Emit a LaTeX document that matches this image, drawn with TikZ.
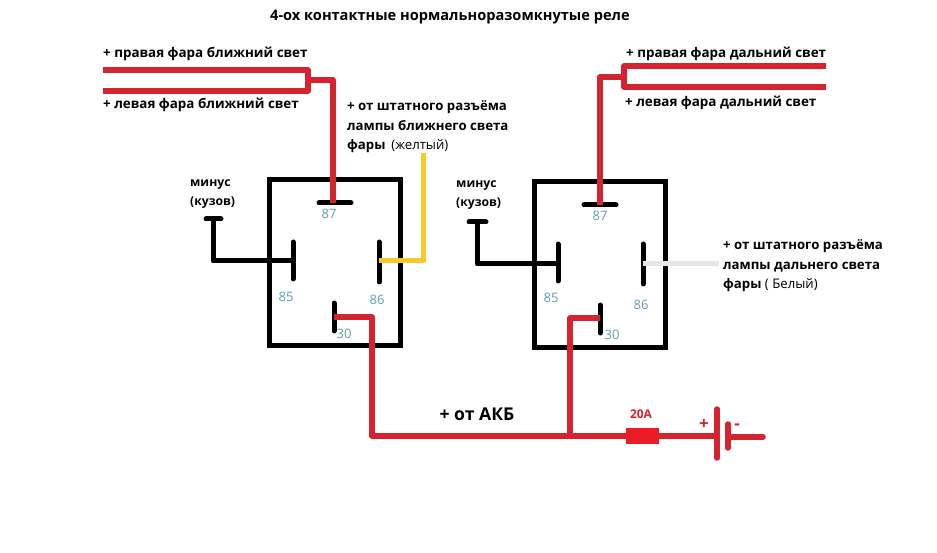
\documentclass[tikz,border=0pt]{standalone}
\usepackage{fontspec}
\setmainfont{Open Sans}
\definecolor{wirered}{HTML}{D5242F}
\definecolor{wireyellow}{HTML}{FBC926}
\definecolor{wirewhite}{HTML}{E6E6E6}
\definecolor{pinblue}{HTML}{5B9EB0}
\definecolor{fusered}{HTML}{EC1C24}
\tikzset{
  relaybox/.style={draw=black,line width=5pt,minimum width=131pt,minimum height=166pt,inner sep=0pt},
  contact/.style={draw=black,line width=5pt,line cap=round},
  blackwire/.style={draw=black,line width=5pt,line join=round},
  redwire/.style={draw=wirered,line width=5.5pt,line join=round},
  caption/.style={anchor=west,inner sep=0pt,font=\fontsize{13.4}{19.5}\selectfont\bfseries,align=left},
  lampcaption/.style={caption,font=\fontsize{13.2}{19.5}\selectfont\bfseries},
  groundcaption/.style={caption,font=\fontsize{12.2}{19}\selectfont\bfseries},
  pin/.style={inner sep=0pt,text=pinblue,font=\fontsize{13}{15}\selectfont}
}
\begin{document}
\begin{tikzpicture}[x=1pt,y=-1pt]
    \useasboundingbox (0,0) rectangle (937,553);

    \node[caption,font=\fontsize{14.6}{19.5}\selectfont\bfseries] (title) at (270,17) {4-ох контактные нормальноразомкнутые реле};

    % left relay
    \node[relaybox] (relayA) at (335,262.5) {};
    \coordinate (a87w) at (319,203); \coordinate (a87e) at (351,203);
    \coordinate (a87) at (333,203);
    \coordinate (a85n) at (293,242); \coordinate (a85s) at (293,279);
    \coordinate (a85) at (293,261);
    \coordinate (a86n) at (379,242); \coordinate (a86s) at (379,282);
    \coordinate (a86) at (379,261);
    \coordinate (a30n) at (334,303); \coordinate (a30s) at (334,331);
    \coordinate (a30) at (334,317);
    \draw[contact] (a87w) -- (a87e);
    \draw[contact] (a85n) -- (a85s);
    \draw[contact] (a86n) -- (a86s);
    \draw[contact] (a30n) -- (a30s);
    \node[pin] (a87t) at (329,214) {87};
    \node[pin] (a85t) at (286,297) {85};
    \node[pin] (a86t) at (377,300) {86};
    \node[pin] (a30t) at (344,334) {30};

    % right relay
    \node[relaybox] (relayB) at (600,264.5) {};
    \coordinate (b87w) at (584,205); \coordinate (b87e) at (616,205);
    \coordinate (b87) at (600,205);
    \coordinate (b85n) at (558,244); \coordinate (b85s) at (558,281);
    \coordinate (b85) at (558,264);
    \coordinate (b86n) at (643,244); \coordinate (b86s) at (643,284);
    \coordinate (b86) at (643,264);
    \coordinate (b30n) at (600,305); \coordinate (b30s) at (600,333);
    \coordinate (b30) at (600,318);
    \draw[contact] (b87w) -- (b87e);
    \draw[contact] (b85n) -- (b85s);
    \draw[contact] (b86n) -- (b86s);
    \draw[contact] (b30n) -- (b30s);
    \node[pin] (b87t) at (600,216) {87};
    \node[pin] (b85t) at (551,298) {85};
    \node[pin] (b86t) at (641,305) {86};
    \node[pin] (b30t) at (612,335) {30};

    % minus
    \node[groundcaption] (minusA) at (190,194) {минус\\(кузов)};
    \node[groundcaption] (minusB) at (456,195) {минус\\(кузов)};
    \coordinate (gndAw) at (206,219); \coordinate (gndAe) at (221,219);
    \coordinate (gndA) at (213,219); \coordinate (gndAc) at (213,261);
    \coordinate (gndBw) at (469,222); \coordinate (gndBe) at (486,222);
    \coordinate (gndB) at (477,222); \coordinate (gndBc) at (477,264);
    \draw[contact] (gndAw) -- (gndAe);
    \draw[contact] (gndBw) -- (gndBe);
    \draw[blackwire] (gndA) -- (gndAc) -- (a85);
    \draw[blackwire] (gndB) -- (gndBc) -- (b85);

    % lamp wires
    \coordinate (lampA) at (423,153); \coordinate (lampAc) at (423,261);
    \coordinate (lampB) at (719,264);
    \draw[draw=wireyellow,line width=5pt,line join=round] (a86) -- (lampAc) -- (lampA);
    \draw[draw=wirewhite,line width=5pt] (b86) -- (lampB);

    % headlight wires
    \coordinate (hiA) at (103,70); \coordinate (busAn) at (308,70);
    \coordinate (loA) at (103,91); \coordinate (busAs) at (308,91);
    \coordinate (busA) at (308,80); \coordinate (busAc) at (333,80);
    \draw[redwire] (hiA) -- (busAn) -- (busAs) -- (loA);
    \draw[redwire] (busA) -- (busAc) -- (a87);
    \coordinate (hiB) at (826,66); \coordinate (busBn) at (624,66);
    \coordinate (loB) at (826,87); \coordinate (busBs) at (624,87);
    \coordinate (busB) at (624,77); \coordinate (busBc) at (600,77);
    \draw[redwire] (hiB) -- (busBn) -- (busBs) -- (loB);
    \draw[redwire] (busB) -- (busBc) -- (b87);

    \node[caption] (hiAt) at (103,54) {+ правая фара ближний свет};
    \node[caption] (loAt) at (103,105) {+ левая фара ближний свет};
    \node[caption] (hiBt) at (626,54) {+ правая фара дальний свет};
    \node[caption] (loBt) at (625,103) {+ левая фара дальний свет};
    \node[lampcaption] (lampAt) at (347,127) {+ от штатного разъёма\\лампы ближнего света\\фары\hspace{6pt}{\mdseries (желтый)}};
    \node[lampcaption] (lampBt) at (723,266) {+ от штатного разъёма\\лампы дальнего света\\фары {\mdseries ( Белый)}};

    % battery feed
    \node[draw=none,fill=fusered,minimum width=33pt,minimum height=16pt,inner sep=0pt] (fuse) at (642.5,436) {};
    \coordinate (feedA) at (372,436); \coordinate (feedAc) at (372,317);
    \coordinate (feedB) at (570,436); \coordinate (feedBc) at (570,318);
    \coordinate (batP) at (717,436);
    \coordinate (batPn) at (717,409); \coordinate (batPs) at (717,458);
    \coordinate (batMn) at (728,424); \coordinate (batMs) at (728,448);
    \coordinate (batM) at (728,437); \coordinate (batEnd) at (763,437);
    \draw[redwire] (a30) -- (feedAc) -- (feedA) -- (fuse) -- (batP);
    \draw[redwire] (b30) -- (feedBc) -- (feedB);
    \draw[redwire,line cap=round] (batPn) -- (batPs);
    \draw[redwire,line cap=round] (batMn) -- (batMs);
    \draw[redwire,line cap=round] (batM) -- (batEnd);
    \node[caption,anchor=center,font=\fontsize{17.6}{20}\selectfont\bfseries] (batt) at (477,414) {+ от АКБ};
    \node[inner sep=0pt,text=wirered,font=\fontsize{12}{14}\selectfont\bfseries] (fuset) at (641,414) {20A};
    \node[inner sep=0pt,text=wirered,font=\fontsize{17}{20}\selectfont\bfseries] (plus) at (704,424) {+};
    \node[inner sep=0pt,text=wirered,font=\fontsize{17}{20}\selectfont\bfseries] (minus) at (737,427) {-};
\end{tikzpicture}
\end{document}
